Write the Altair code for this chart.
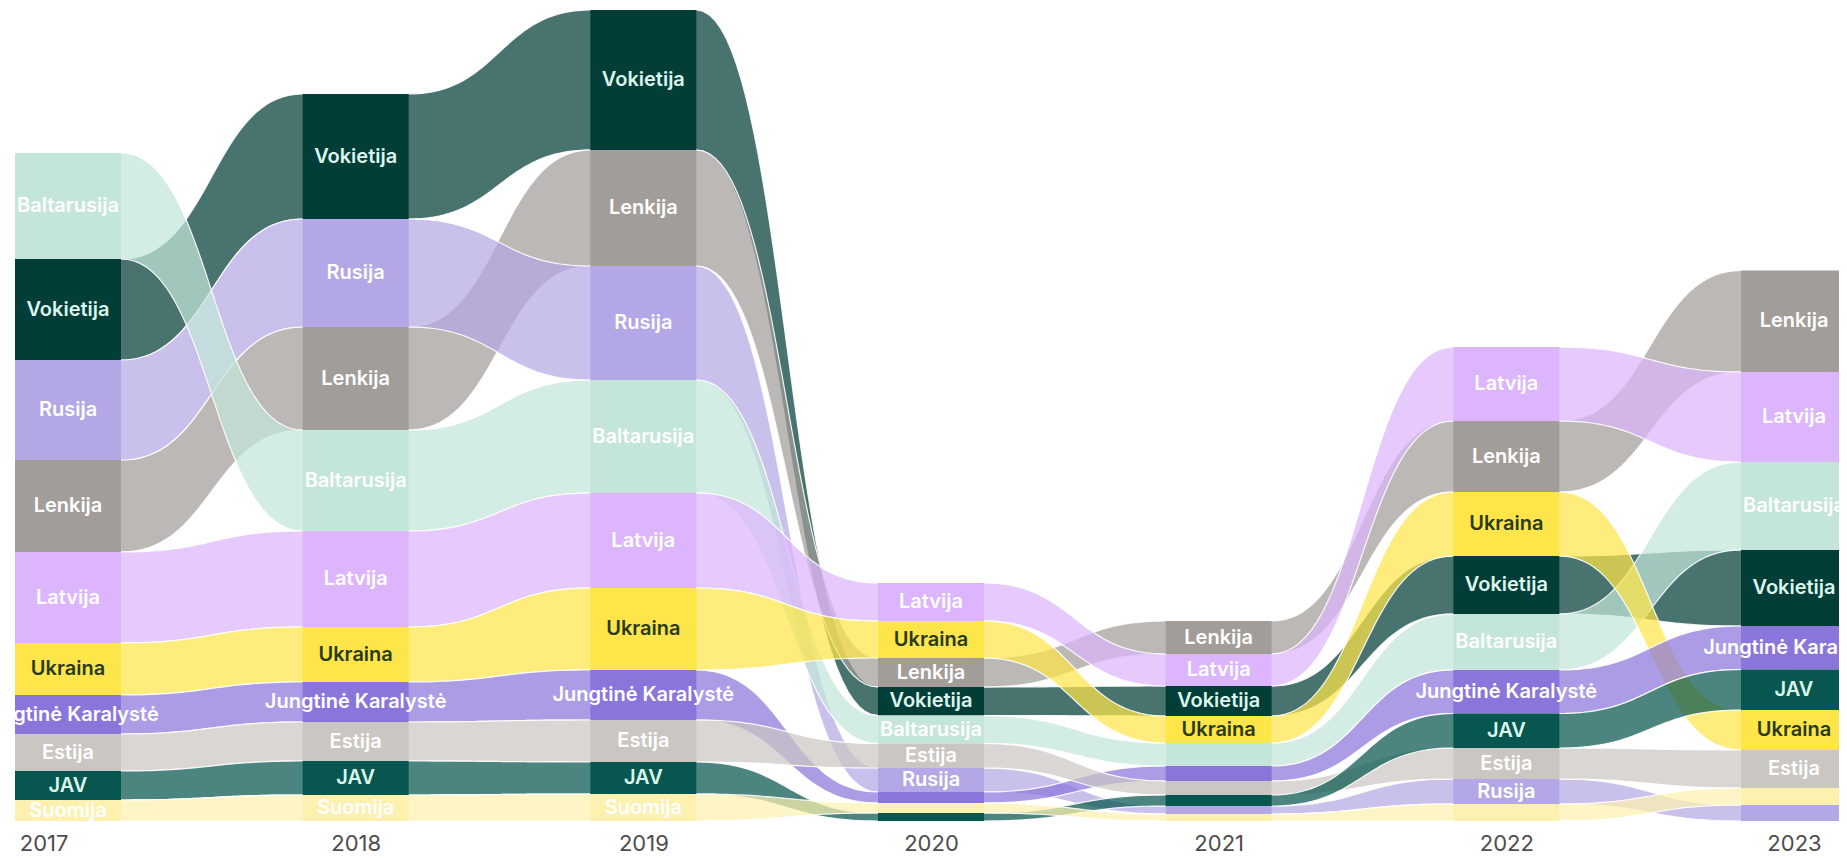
import altair as alt
import pandas as pd
import numpy as np

years = [2017, 2018, 2019, 2020, 2021, 2022, 2023]

countries = ["Vokietija", "Lenkija", "Rusija", "Baltarusija", "Latvija",
             "Ukraina", "Jungtinė Karalystė", "Estija", "JAV", "Suomija"]

vokietija   = [101, 125, 140, 28.5, 30, 58, 76]
lenkija     = [92, 103, 116, 29, 33, 71, 101.5]
rusija      = [100, 108, 114, 24, 8, 25, 16]
baltarusija = [106, 101, 113, 28, 23, 56, 88]
latvija     = [91, 96, 95, 38, 32, 74, 90]
ukraina     = [52, 55, 82, 37, 27, 64, 40]
jk          = [39, 40, 50, 11, 15, 43.5, 43.5]
estija      = [37, 39, 42, 24.5, 14, 31, 38]
jav         = [29, 34, 32, 8, 11, 34.5, 40.5]
suomija     = [21, 26, 27, 10, 7, 17, 17]

series = [vokietija, lenkija, rusija, baltarusija, latvija,
          ukraina, jk, estija, jav, suomija]

node_colors = ["#023d38", "#a29d99", "#b4a7e5", "#c4e6da", "#dcb5fc",
               "#fde54a", "#8a76db", "#cac6c2", "#07564f", "#fdf1b0"]
label_colors = ["#dcf6ee", "#ffffff", "#ffffff", "#ffffff", "#ffffff",
                "#2a3a18", "#ffffff", "#ffffff", "#dcf6ee", "#ffffff"]

unlabeled = [("Baltarusija", 2021)]
MIN_LABEL = 19
NODE_HALF = 0.1842

# stack each year, largest on top
stack = {}
for j in range(len(years)):
    order = sorted(range(len(countries)), key=lambda k: -series[k][j])
    top = sum(s[j] for s in series)
    for k in order:
        v = series[k][j]
        stack[(k, j)] = (top - v, top)
        top -= v

# ribbons
ts = np.linspace(0, 1, 41)
rib = []
for k, c in enumerate(countries):
    for j in range(len(years) - 1):
        b0, t0 = stack[(k, j)]
        b1, t1 = stack[(k, j + 1)]
        xa, xb = years[j], years[j + 1]
        x0, x1 = xa + NODE_HALF, xb - NODE_HALF
        d = x1 - x0
        seg = f"{k:02d}-{j}"
        rib.append(dict(seg=seg, x=xa, bot=b0, top=t0, fill=node_colors[k]))
        for t in ts:
            xx = x0 + d * (1.5 * t - 1.5 * t * t + t ** 3)
            s = 3 * t * t - 2 * t ** 3
            rib.append(dict(seg=seg, x=xx, bot=b0 + (b1 - b0) * s,
                            top=t0 + (t1 - t0) * s, fill=node_colors[k]))
        rib.append(dict(seg=seg, x=xb, bot=b1, top=t1, fill=node_colors[k]))
rib_df = pd.DataFrame(rib)

nodes = []
for k, c in enumerate(countries):
    for j, yr in enumerate(years):
        b, t = stack[(k, j)]
        show = (t - b) >= MIN_LABEL and (c, yr) not in unlabeled
        nodes.append(dict(country=c, year=yr, xa=yr - NODE_HALF, xb=yr + NODE_HALF,
                          bot=b, top=t, mid=(b + t) / 2, fill=node_colors[k],
                          lab=label_colors[k], label=c if show else ""))
node_df = pd.DataFrame(nodes)

xscale = alt.Scale(domain=[2016.8158, 2023.1564], nice=False, zero=False)
yscale = alt.Scale(domain=[0, 813], nice=False, zero=True)

xaxis = alt.Axis(values=years, format="d", title=None, domain=False, ticks=False,
                 tickSize=0, grid=False, labelFontSize=22, labelColor="#4d4d4d",
                 labelFont="Inter", labelPadding=12, labelFlush=False,
                 labelOverlap=False,
                 labelAlign={"condition": {"test": "datum.value == 2017", "value": "right"},
                             "value": "center"})

ribbons = alt.Chart(rib_df).mark_area(
    stroke="white", strokeWidth=1.2, fillOpacity=0.72, strokeOpacity=0.9
).encode(
    x=alt.X("x:Q", scale=xscale, axis=xaxis),
    y=alt.Y("top:Q", scale=yscale, axis=None, stack=None),
    y2="bot:Q",
    detail="seg:N",
    color=alt.Color("fill:N", scale=None),
)

rects = alt.Chart(node_df).mark_rect().encode(
    x=alt.X("xa:Q", scale=xscale, axis=xaxis),
    x2="xb:Q",
    y=alt.Y("top:Q", scale=yscale, axis=None),
    y2="bot:Q",
    color=alt.Color("fill:N", scale=None),
)

labels = alt.Chart(node_df).mark_text(
    font="Inter", fontSize=20, fontWeight=600, baseline="middle", align="center", clip=True
).encode(
    x=alt.X("year:Q", scale=xscale, axis=xaxis),
    y=alt.Y("mid:Q", scale=yscale, axis=None),
    text="label:N",
    color=alt.Color("lab:N", scale=None),
)

chart = alt.layer(ribbons, rects, labels).properties(
    width=1824, height=813,
    padding={"left": 7, "top": 0, "right": 0, "bottom": 36},
    autosize=alt.AutoSizeParams(type="none"),
    background="white",
).configure_view(stroke=None)

chart.save("out.html", embed_options={"renderer": "svg", "actions": False})
